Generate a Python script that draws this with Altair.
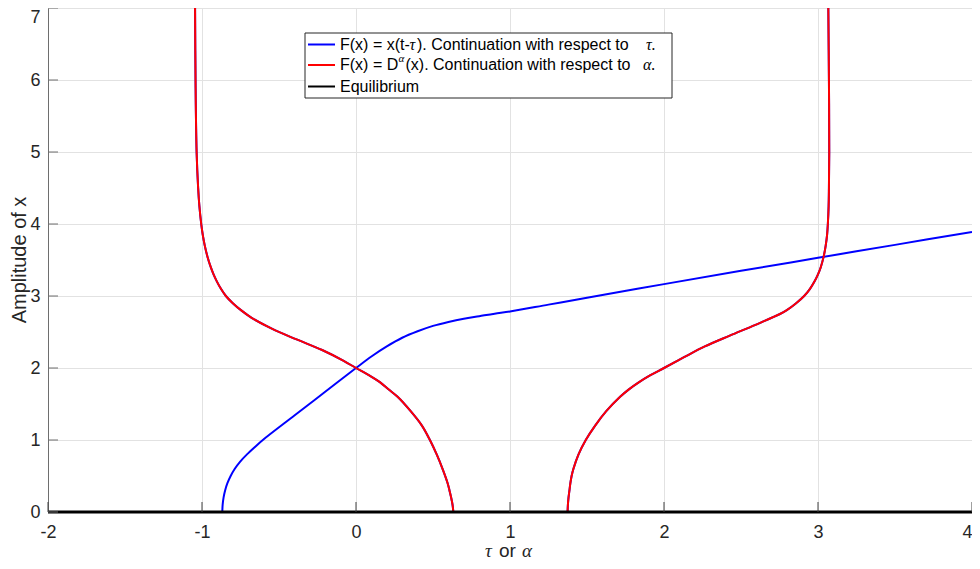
import altair as alt
import pandas as pd

# ---- data ----
# blue: F(x) = x(t - tau), continuation with respect to tau
tau_x = [-0.868, -0.866, -0.860, -0.850, -0.835, -0.814, -0.787, -0.752, -0.708, -0.658,
         -0.605, -0.4, -0.2, 0.0, 0.1, 0.2, 0.3, 0.4, 0.5, 0.6,
         0.7, 0.8, 0.9, 1.0, 1.25, 1.5, 2.0, 2.5, 3.0, 3.5, 4.0]
tau_y = [0.0, 0.1, 0.2, 0.3, 0.4, 0.5, 0.6, 0.7, 0.8, 0.9,
         1.0, 1.34, 1.67, 2.0, 2.16, 2.30, 2.42, 2.51, 2.585, 2.64,
         2.685, 2.72, 2.755, 2.785, 2.88, 2.975, 3.165, 3.35, 3.53, 3.71, 3.89]

# red: F(x) = D^alpha(x), continuation with respect to alpha (two branches)
alpha_left_x = [-1.045, -1.042, -1.035, -1.025, -1.017, -1.005, -0.995, -0.982, -0.965, -0.943,
                -0.925, -0.903, -0.877, -0.845, -0.80, -0.745, -0.68, -0.55, -0.39, -0.22,
                -0.08, 0.0, 0.083, 0.157, 0.213, 0.27, 0.355, 0.428, 0.480, 0.524,
                0.562, 0.595, 0.607, 0.618, 0.627, 0.632]
alpha_left_y = [7.0, 6.0, 5.0, 4.5, 4.25, 4.0, 3.85, 3.7, 3.55, 3.4,
                3.3, 3.2, 3.1, 3.0, 2.9, 2.8, 2.7, 2.55, 2.4, 2.25,
                2.1, 2.0, 1.9, 1.8, 1.7, 1.6, 1.4, 1.2, 1.0, 0.8,
                0.6, 0.4, 0.3, 0.2, 0.1, 0.0]
alpha_right_x = [1.374, 1.376, 1.380, 1.386, 1.392, 1.400, 1.412, 1.445, 1.492, 1.553,
                 1.625, 1.715, 1.77, 1.836, 1.912, 2.0, 2.13, 2.265, 2.427, 2.594,
                 2.753, 2.795, 2.858, 2.91, 2.948, 2.977, 3.0, 3.018, 3.037, 3.05,
                 3.059, 3.064, 3.069, 3.071, 3.073, 3.071, 3.067]
alpha_right_y = [0.0, 0.1, 0.2, 0.3, 0.4, 0.5, 0.6, 0.8, 1.0, 1.2,
                 1.4, 1.6, 1.7, 1.8, 1.9, 2.0, 2.15, 2.3, 2.45, 2.6,
                 2.75, 2.8, 2.9, 3.0, 3.1, 3.2, 3.3, 3.4, 3.55, 3.7,
                 3.85, 4.0, 4.25, 4.5, 5.0, 6.0, 7.0]

# black: equilibrium
eq_x = [-2, 4]
eq_y = [0, 0]

x_ticks = [-2, -1, 0, 1, 2, 3, 4]
y_ticks = [0, 1, 2, 3, 4, 5, 6, 7]

legend_labels = ["F(x) = x(t-\u03c4). Continuation with respect to  \u03c4.",
                 "F(x) = D\u03b1(x). Continuation with respect to  \u03b1.",
                 "Equilibrium"]

# ---- styling ----
SANS = "Liberation Sans"
SERIF = "Liberation Serif"
TXT = "#262626"
GRID = "#e2e2e2"
W, H = 924, 504


def curve(xs, ys):
    return pd.DataFrame({"x": xs, "y": ys, "i": list(range(len(xs)))})


xscale = alt.Scale(domain=[-2, 4], nice=False, zero=False)
yscale = alt.Scale(domain=[0, 7], nice=False, zero=False)
xaxis = alt.Axis(values=x_ticks, grid=True, gridColor=GRID, ticks=False, domain=False,
                 labelFont=SANS, labelFontSize=18, labelColor=TXT, labelPadding=11,
                 labelFlush=False,
                 labelAlign=alt.condition("datum.value == 4", alt.value("right"), alt.value("center")),
                 labelExpr="'' + datum.value", title=None)
yaxis = alt.Axis(values=y_ticks, grid=True, gridColor=GRID, ticks=False, domain=True,
                 domainColor="#6e6e6e", domainWidth=1, labelFlush=False,
                 labelFont=SANS, labelFontSize=18, labelColor=TXT, labelPadding=8,
                 labelBaseline=alt.condition("datum.value == 7", alt.value("top"), alt.value("middle")),
                 labelExpr="'' + datum.value", title=None)
X = alt.X("x:Q", scale=xscale, axis=xaxis)
Y = alt.Y("y:Q", scale=yscale, axis=yaxis)


def line(df, color, width=2):
    return alt.Chart(df).mark_line(color=color, strokeWidth=width, interpolate="catmull-rom").encode(
        x=X, y=Y, order="i:Q")


left = curve(alpha_left_x, alpha_left_y)
right = curve(alpha_right_x, alpha_right_y)

layers = [
    line(left, "#0000ff"),
    line(right, "#0000ff"),
    line(curve(tau_x, tau_y), "#0000ff"),
    line(left, "#ff0000"),
    line(right, "#ff0000"),
    line(curve(eq_x, eq_y), "#000000", 3),
]

# inward ticks
xt = pd.DataFrame({"x": x_ticks})
yt = pd.DataFrame({"y": y_ticks})
layers.append(alt.Chart(xt).mark_rule(color="#404040", strokeWidth=1).encode(
    x=X, y=alt.value(H), y2=alt.value(H - 10)))
layers.append(alt.Chart(yt).mark_rule(color="#6e6e6e", strokeWidth=1).encode(
    y=Y, x=alt.value(0), x2=alt.value(10)))

one = pd.DataFrame({"a": [0]})


def txt(s, x, y, font=SANS, size=16, style="normal", color="#000000", align="left", angle=0):
    kw = dict(text=s, font=font, fontSize=size, fontStyle=style, color=color,
              align=align, baseline="middle")
    if angle:
        kw["angle"] = angle
    return alt.Chart(one).mark_text(**kw).encode(x=alt.value(x), y=alt.value(y))


# legend box
layers.append(alt.Chart(one).mark_rect(fill="white", stroke="#262626", strokeWidth=1).encode(
    x=alt.value(257), x2=alt.value(624), y=alt.value(25), y2=alt.value(90)))
rows = [36.5, 57, 78.5]
for c, yy in zip(["#0000ff", "#ff0000", "#000000"], rows):
    layers.append(alt.Chart(one).mark_rule(color=c, strokeWidth=2).encode(
        x=alt.value(260), x2=alt.value(287), y=alt.value(yy)))

# row 1
layers.append(txt("F(x) = x(t-", 292, rows[0]))
layers.append(txt("\u03c4", 361.5, rows[0], font=SERIF, style="italic"))
layers.append(txt("). Continuation with respect to", 369, rows[0]))
layers.append(txt("\u03c4.", 598, rows[0], font=SERIF, style="italic"))
# row 2
layers.append(txt("F(x) = D", 292, rows[1]))
layers.append(txt("\u03b1", 350.5, rows[1] - 6, font=SERIF, style="italic", size=11))
layers.append(txt("(x). Continuation with respect to", 357.5, rows[1]))
layers.append(txt("\u03b1.", 595, rows[1], font=SERIF, style="italic"))
# row 3
layers.append(txt(legend_labels[2], 292, rows[2]))

# axis titles
layers.append(txt("Amplitude of x", -28, 252, size=20, color=TXT, align="center", angle=270))
layers.append(txt("\u03c4", 437, 543, font=SERIF, style="italic", size=19, color=TXT))
layers.append(txt("or", 451, 543, size=19, color=TXT))
layers.append(txt("\u03b1", 474, 543, font=SERIF, style="italic", size=19, color=TXT))

chart = alt.layer(*layers).properties(
    width=W, height=H,
    padding={"left": 40, "top": 0, "right": 0, "bottom": 49},
    autosize=alt.AutoSizeParams(type="none"),
).configure_view(stroke=None)

chart.save("out.html", embed_options={"renderer": "svg", "actions": False})
